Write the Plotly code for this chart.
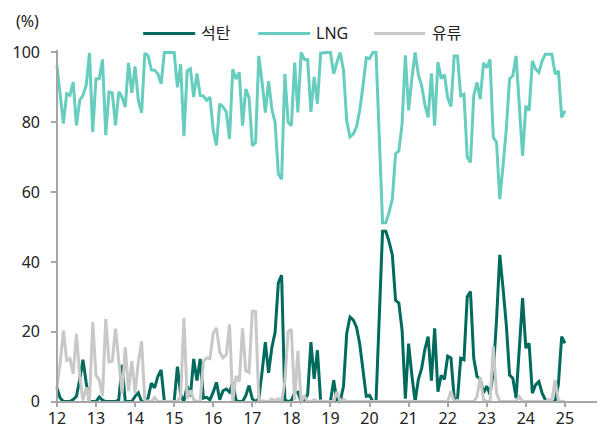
import plotly.graph_objects as go

# ---- data (monthly shares, %, Jan 2012 .. Jan 2025) ----
start_year = 12
tick_labels = ["12", "13", "14", "15", "16", "17", "18", "19", "20", "21", "22", "23", "24", "25", ""]
tick_values = [12, 13, 14, 15, 16, 17, 18, 19, 20, 21, 22, 23, 24, 25, 26]
series_names = ["석탄", "LNG", "유류"]

lng = [96.3, 88, 79.6, 88.2, 87.7, 91.5, 79.1, 86.3, 87.7, 90.6, 99.8, 77.2,
       92.5, 92.5, 98, 76.3, 88.7, 88.4, 79.1, 88.7, 87.2, 84.4, 97, 88.4,
       96, 86.3, 82.7, 99.8, 99.1, 95, 94.9, 93.9, 91, 100, 100, 100,
       100, 90, 96.6, 76, 94.7, 95.3, 87.2, 94, 87.7, 87.5, 86.3, 87.2,
       77.7, 73.4, 85.3, 84.4, 83, 75.2, 95.2, 92.4, 94.3, 79, 89.5, 87.1,
       73.3, 74.2, 99, 91.4, 82.8, 91.8, 83.8, 80, 65.2, 63.7, 93.8, 80,
       79, 97.1, 82.8, 100, 98, 98, 83, 93, 85.3, 99.8, 100, 100,
       100, 93.9, 97.2, 100, 94.9, 80.4, 75.8, 76.6, 78.7, 83.5, 90.5, 98.5,
       98.2, 100, 100, 75.5, 51.2, 51.2, 54.2, 58, 71, 71.8, 79.6, 99.2,
       83.4, 92.5, 100, 93.6, 90.5, 85, 81.4, 94, 79, 97.2, 92.5, 93.6,
       87, 84.5, 99, 99, 87.6, 88, 70, 68.5, 87.6, 91.4, 86.6, 97,
       95.6, 98, 75.7, 74.2, 58, 67.6, 78, 92.4, 93.3, 99, 84.7, 70.4,
       84.7, 83.3, 97.6, 95.2, 94.3, 97.6, 99.5, 99.5, 99.5, 93.8, 94.7, 81.4,
       83.3]

coal = [3.9, 1, 0, 0, 0, 0.6, 1.5, 6.3, 12, 5.3, 0, 0,
        0, 1.3, 0.4, 0, 0, 0, 0, 0.5, 10.5, 0, 0, 0,
        1.5, 2.5, 0, 0, 1, 5.3, 3.9, 7.2, 9.1, 0, 0, 0,
        0, 10, 2, 0, 4.5, 1.5, 12.2, 6, 12.2, 1, 1.2, 0.5,
        2.7, 5.5, 0.5, 3.1, 3.6, 2.7, 5.5, 0.3, 0, 0, 1.7, 4.6,
        0.8, 0, 0.8, 8.5, 17, 8.2, 15.5, 19.8, 34, 36.2, 0.5, 0,
        0.3, 2.5, 2.7, 0, 0.5, 2, 17, 6.5, 14.7, 0, 0, 0,
        0, 6.1, 0, 0, 4.4, 19.6, 24.2, 23.4, 21.3, 16.5, 9.3, 1.5,
        1.8, 0, 0, 24.5, 48.8, 48.8, 45.8, 42, 29, 28.2, 20.4, 0.8,
        16.6, 7.5, 0, 6.4, 9.5, 15, 18.6, 6, 21, 2.8, 7.5, 6.4,
        13, 12.5, 1, 0.6, 12.4, 12, 30, 31.5, 12.4, 7.2, 6.4, 2.5,
        4.4, 2, 8.5, 23.4, 42, 32.4, 22, 7.6, 6.7, 1, 13.9, 29.6,
        15.3, 16.7, 2.4, 4.8, 5.7, 2.4, 0.5, 0, 0, 0, 5, 18.6,
        16.7]

oil = [4, 11, 20.4, 11.8, 12.3, 7.9, 19.4, 7.4, 0.3, 4.1, 0.2, 22.8,
       7.5, 6.2, 1.6, 23.7, 11.3, 11.6, 20.9, 10.8, 2.3, 15.6, 3, 11.6,
       2.5, 11.2, 17.3, 0.2, 0, 0, 1.2, 0, 0, 0, 0, 0,
       0, 0, 1.4, 24, 0.8, 3.2, 0.6, 0, 0.1, 11.5, 12.5, 12.3,
       19.6, 21.1, 14.2, 12.5, 13.4, 22.1, 0, 7.3, 5.7, 21, 8.8, 8.3,
       25.9, 25.8, 0.2, 0.1, 0.2, 0, 0.7, 0.2, 0.8, 0.1, 5.7, 20,
       20.7, 0.4, 14.5, 0, 1.5, 0, 0, 0.5, 0, 0.2, 0, 0,
       0, 0, 2.8, 0, 0.7, 0, 0, 0, 0, 0, 0.2, 0,
       0, 0, 0, 0, 0, 0, 0, 0, 0, 0, 0, 0,
       0, 0, 0, 0, 0, 0, 0, 0, 0, 0, 0, 0,
       0, 3, 0, 0.4, 0, 0, 0, 0, 0, 1.4, 7, 0.5,
       0, 0, 15.8, 2.4, 0, 0, 0, 0, 0, 0, 1.4, 0,
       0, 0, 0, 0, 0, 0, 0, 0.5, 0.5, 6.2, 0.3, 0,
       0]

months = [start_year + i / 12 for i in range(len(lng))]

colors = ["#006b5d", "#66cdbf", "#c8c8c8"]

# ---- layout geometry (pixels); the page body adds an 8px margin ----
OFF = 8
W_IMG, H_IMG = 605 - OFF, 430 - OFF
L, R = 52.8 - OFF, 1.0
T, B = 49.55 - OFF, 25.55
PW = W_IMG - L - R
PH = H_IMG - T - B
XR = [11.9, 26.0]
YR = [-0.7, 100.7]


def fx(px):
    # px given in reference-image pixels
    return (px - OFF - L) / PW


def fy(py):
    return (H_IMG - B - (py - OFF)) / PH


FONT = "Noto Sans, Noto Sans CJK KR, sans-serif"
AXIS_COLOR = "#a6a6a6"
TXT = "#222"

fig = go.Figure()
for name, vals, col in zip(series_names, [coal, lng, oil], colors):
    fig.add_trace(go.Scatter(x=months, y=vals, mode="lines", name=name,
                             line=dict(color=col, width=3), showlegend=False))

# manual legend
leg_lines = [(143, 195), (258, 310), (374, 425)]
leg_text_x = [200, 315, 431]
leg_y = 33
shapes = []
annotations = []
for (x0, x1), tx, name, col in zip(leg_lines, leg_text_x, series_names, colors):
    shapes.append(dict(type="line", xref="paper", yref="paper",
                       x0=fx(x0), x1=fx(x1), y0=fy(leg_y), y1=fy(leg_y),
                       line=dict(color=col, width=3)))
    annotations.append(dict(text=name, xref="paper", yref="paper",
                            x=fx(tx), y=fy(leg_y), xanchor="left", yanchor="middle",
                            showarrow=False, borderpad=0,
                            font=dict(family=FONT, size=16, color=TXT)))

annotations.append(dict(text="(%)", xref="paper", yref="paper",
                        x=fx(40), y=fy(20), xanchor="right", yanchor="middle",
                        showarrow=False, borderpad=0,
                        font=dict(family=FONT, size=16, color=TXT)))

fig.update_layout(
    width=W_IMG, height=H_IMG,
    margin=dict(l=L, r=R, t=T, b=B, pad=0),
    paper_bgcolor="white", plot_bgcolor="white",
    font=dict(family=FONT, size=16, color=TXT),
    shapes=shapes, annotations=annotations,
    showlegend=False,
    xaxis=dict(range=XR, tickmode="array", tickvals=tick_values, ticktext=tick_labels,
               showgrid=False, zeroline=False, showline=True, linecolor=AXIS_COLOR,
               linewidth=1.5, ticks="outside", ticklen=5, tickcolor=AXIS_COLOR,
               tickwidth=1.5, anchor="free",
               position=(0 - YR[0]) / (YR[1] - YR[0]), automargin=False,
               ticklabelstandoff=-3,
               tickfont=dict(family=FONT, size=16, color=TXT)),
    yaxis=dict(range=YR, tickmode="array", tickvals=[0, 20, 40, 60, 80, 100],
               showgrid=False, zeroline=False, showline=True, linecolor=AXIS_COLOR,
               linewidth=1.5, ticks="outside", ticklen=5, tickcolor=AXIS_COLOR,
               tickwidth=1.5, anchor="free",
               position=(12 - XR[0]) / (XR[1] - XR[0]), automargin=False,
               ticklabelstandoff=8,
               tickfont=dict(family=FONT, size=16, color=TXT)),
)

fig.write_html("out.html")
